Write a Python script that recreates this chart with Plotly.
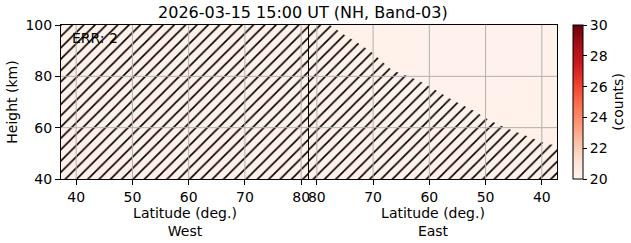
import plotly.graph_objects as go

# ---- data ----
title_text = "2026-03-15 15:00 UT (NH, Band-03)"
lat_edges = [37.3, 44.0, 51.0, 58.0, 65.0, 72.0, 81.4]
height_edges = [40, 50, 60, 70, 80, 90, 100]
west_counts = [
    [20.35, 20.35, 20.3, 20.3, 20.3, 20.3],
    [20.35, 20.3, 20.3, 20.3, 20.3, 20.3],
    [20.3, 20.3, 20.3, 20.3, 20.3, 20.3],
    [20.3, 20.3, 20.3, 20.25, 20.3, 20.3],
    [20.3, 20.3, 20.25, 20.25, 20.3, 20.3],
    [20.3, 20.3, 20.25, 20.25, 20.3, 20.3],
]
east_counts = [
    [20.3, 20.25, 20.25, 20.25, 20.25, 20.25],
    [20.25, 20.25, 20.25, 20.25, 20.25, 20.25],
    [20.2, 20.2, 20.2, 20.2, 20.25, 20.25],
    [20.2, 20.15, 20.15, 20.15, 20.2, 20.25],
    [20.15, 20.15, 20.15, 20.15, 20.2, 20.25],
    [20.15, 20.15, 20.15, 20.15, 20.2, 20.25],
]
# hatched (invalid) region: from the bottom up to these heights
west_hatch_lat = [37.3, 81.4]
west_hatch_top = [100, 100]
east_hatch_lat = [81.4, 77.7, 75.0, 72.7, 70.3, 66.7, 62.0, 59.5, 55.9, 52.0, 49.4, 46.4, 43.0, 39.6, 37.3]
east_hatch_top = [100, 100, 96.0, 93.0, 89.5, 82.5, 78.5, 75.5, 70.8, 66.5, 63.0, 59.9, 57.0, 54.0, 53.0]
lat_ticks = [40, 50, 60, 70, 80]
height_ticks = [40, 60, 80, 100]
cbar_ticks = [20, 22, 24, 26, 28, 30]
err_text = "ERR: 2"

FONT = "DejaVu Sans"
GRID = "#b0b0b0"

fig = go.Figure()

fig.add_trace(go.Heatmap(x=lat_edges, y=height_edges, z=west_counts, coloraxis="coloraxis",
                         xaxis="x", yaxis="y", hoverinfo="skip"))
fig.add_trace(go.Heatmap(x=lat_edges, y=height_edges, z=east_counts, coloraxis="coloraxis",
                         xaxis="x2", yaxis="y2", hoverinfo="skip"))

pattern = dict(shape="/", size=8, solidity=0.2, fgcolor="black", fgopacity=1, bgcolor="rgba(0,0,0,0)")
fig.add_trace(go.Scatter(x=west_hatch_lat, y=west_hatch_top, mode="lines", line=dict(width=0),
                         fill="tozeroy", fillcolor="rgba(0,0,0,0)", fillpattern=pattern,
                         xaxis="x", yaxis="y", showlegend=False, hoverinfo="skip"))
fig.add_trace(go.Scatter(x=east_hatch_lat, y=east_hatch_top, mode="lines", line=dict(width=0),
                         fill="tozeroy", fillcolor="rgba(0,0,0,0)", fillpattern=pattern,
                         xaxis="x2", yaxis="y2", showlegend=False, hoverinfo="skip"))

# grid lines above the image (as in the reference)
shapes = []
for xa, ya in (("x", "y"), ("x2", "y2")):
    for t in lat_ticks:
        shapes.append(dict(type="line", xref=xa, yref=ya + " domain", x0=t, x1=t, y0=0, y1=1,
                           line=dict(color=GRID, width=1), layer="above"))
    for t in height_ticks[1:-1]:
        shapes.append(dict(type="line", xref=xa + " domain", yref=ya, x0=0, x1=1, y0=t, y1=t,
                           line=dict(color=GRID, width=1), layer="above"))

axis_common = dict(showline=True, mirror=True, linecolor="black", linewidth=1,
                   ticks="outside", ticklen=5, tickcolor="black", tickwidth=1,
                   showgrid=False, zeroline=False, layer="above traces",
                   tickfont=dict(family=FONT, size=14, color="black"))

xr = [min(lat_edges), max(lat_edges)]
fig.update_layout(
    width=631, height=243,
    margin=dict(l=61, r=74, t=25, b=64, autoexpand=False),
    paper_bgcolor="white", plot_bgcolor="white",
    font=dict(family=FONT, size=14, color="black"),
    title=dict(text=title_text, x=0.48, xanchor="center", y=0.95, yanchor="middle",
               font=dict(family=FONT, size=16, color="black")),
    xaxis=dict(domain=[0, 0.5], range=xr, tickvals=lat_ticks, anchor="y", automargin=False,
               title=dict(text="Latitude (deg.)<br>West", standoff=4, font=dict(size=14)), **axis_common),
    xaxis2=dict(domain=[0.5, 1], range=xr[::-1], tickvals=lat_ticks, anchor="y2", automargin=False,
                title=dict(text="Latitude (deg.)<br>East", standoff=4, font=dict(size=14)), **axis_common),
    yaxis=dict(domain=[0, 1], range=[40, 100], tickvals=height_ticks, anchor="x", automargin=False,
               title=dict(text="Height (km)", standoff=4, font=dict(size=14)), **axis_common),
    yaxis2=dict(domain=[0, 1], range=[40, 100], tickvals=height_ticks, anchor="x2", automargin=False,
                showticklabels=False, **{k: v for k, v in axis_common.items() if k != "ticks"}, ticks=""),
    coloraxis=dict(colorscale="Reds", cmin=20, cmax=30,
                   colorbar=dict(x=1.032, xanchor="left", xpad=0, y=0.5, yanchor="middle", ypad=0,
                                 len=1, lenmode="fraction",
                                 thickness=10, outlinecolor="black", outlinewidth=1,
                                 tickvals=cbar_ticks, ticks="outside", ticklen=4, tickcolor="black",
                                 tickfont=dict(family=FONT, size=14, color="black"),
                                 title=dict(text="(counts)", side="right", font=dict(family=FONT, size=14)))),
    shapes=shapes,
    annotations=[dict(text=err_text, xref="x domain", yref="y domain", x=0.035, y=0.915,
                      xanchor="left", yanchor="middle", showarrow=False,
                      font=dict(family=FONT, size=14, color="black"))],
)

fig.write_html("out.html")
